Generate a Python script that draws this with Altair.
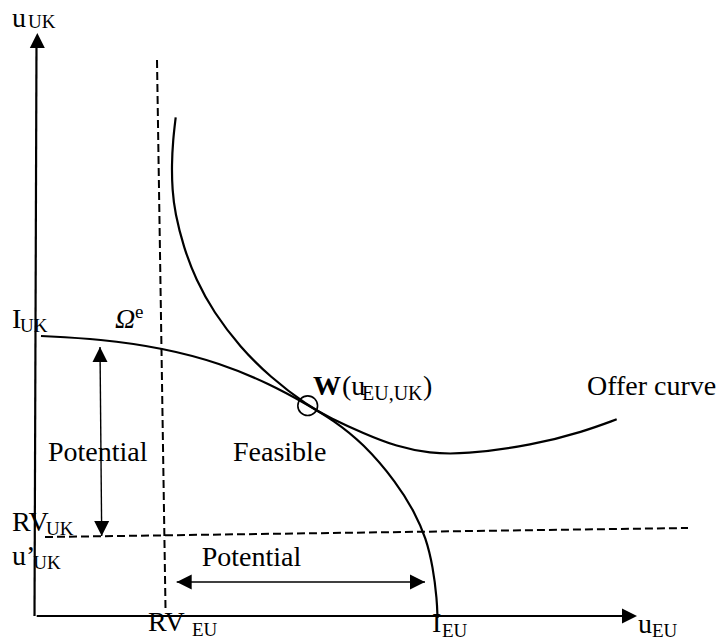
import altair as alt
import pandas as pd

# Coordinates: u_EU (horizontal) and u_UK (vertical), origin where the axes meet.
# Frontier of the feasible set (from I_UK down to I_EU)
frontier_eu = [5, 64, 127, 184, 234, 272, 297, 327, 361, 379, 390, 397, 401, 401.5]
frontier_uk = [280, 277, 268, 253, 232, 211, 196, 173, 133, 103, 78, 49, 16, -2]

# Offer curve
offer_eu = [139.7, 137, 135.7, 136.3, 139, 147.5, 160, 177.5, 204, 234, 271.7, 294,
            327.3, 360.7, 394, 427, 497.3, 547.3, 580.7]
offer_uk = [498.7, 476, 451, 426, 403, 369, 336, 304, 269, 239, 210.3, 198,
            182.7, 169.3, 162.7, 161.5, 171, 184.3, 196.7]

# Axes (solid segments) and their arrow tips
axis_x1 = [-1.5, 0.7]
axis_y1 = [0, 0]
axis_x2 = [0.5, 586]
axis_y2 = [575, 0]

# Reservation values (dashed segments)
dash_x1 = [121, 9]
dash_y1 = [556, 79]
dash_x2 = [129.5, 652]
dash_y2 = [8, 88]

# "Potential" double arrows
pot_x1 = [64, 140.7]
pot_y1 = [269, 34]
pot_x2 = [65.7, 389]
pot_y2 = [80, 34]

# Arrow heads: tip position and direction
head_x = [1.3, 601, 64, 65.7, 140.7, 389]
head_y = [583, 0, 269, 80, 34, 34]
head_dir = [0, 90, 0, 180, 270, 90]

# Point W
w_eu = [271.7]
w_uk = [210.3]

# Labels
lab_text = ["u", "UK", "I", "UK", "e", "(u", "EU,UK", ")", "Offer curve",
            "Potential", "Feasible", "RV", "UK", "u\u2019", "UK", "RV", "EU",
            "I", "EU", "u", "EU", "Potential"]
lab_x = [-24, -8, -24, -16, 99, 306, 326, 387, 551, 12, 197, -24, 10, -24, -2.7,
         112, 156, 396, 406, 602, 616, 165.7]
lab_y = [589, 588, 288, 284, 298, 221, 216, 221, 221, 155, 155, 85, 81, 51.5, 47,
         -15, -20, -15.5, -20.7, -17, -20.7, 50]
lab_size = [28, 19, 28, 19, 19, 28, 20, 28, 28, 28, 28, 28, 19, 28, 19, 28, 19,
            28, 19, 28, 19, 28]

ital_text = ["\u03a9"]
ital_x = [79]
ital_y = [288]

bold_text = ["W"]
bold_x = [277]
bold_y = [221]

FONT = "Liberation Serif"

xs = alt.Scale(domain=[-28, 681], nice=False, zero=False)
ys = alt.Scale(domain=[-27, 608], nice=False, zero=False)


def X(f="x"):
    return alt.X(f + ":Q", scale=xs, axis=None)


def Y(f="y"):
    return alt.Y(f + ":Q", scale=ys, axis=None)


frontier_df = pd.DataFrame({"x": frontier_eu, "y": frontier_uk, "i": range(len(frontier_eu))})
offer_df = pd.DataFrame({"x": offer_eu, "y": offer_uk, "i": range(len(offer_eu))})
axis_df = pd.DataFrame({"x": axis_x1, "y": axis_y1, "x2": axis_x2, "y2": axis_y2})
dash_df = pd.DataFrame({"x": dash_x1, "y": dash_y1, "x2": dash_x2, "y2": dash_y2})
pot_df = pd.DataFrame({"x": pot_x1, "y": pot_y1, "x2": pot_x2, "y2": pot_y2})
head_df = pd.DataFrame({"x": head_x, "y": head_y, "a": head_dir})
w_df = pd.DataFrame({"x": w_eu, "y": w_uk})
lab_df = pd.DataFrame({"t": lab_text, "x": lab_x, "y": lab_y, "s": lab_size})
ital_df = pd.DataFrame({"t": ital_text, "x": ital_x, "y": ital_y})
bold_df = pd.DataFrame({"t": bold_text, "x": bold_x, "y": bold_y})

frontier = alt.Chart(frontier_df).mark_line(
    color="black", strokeWidth=2.2, interpolate="basis"
).encode(x=X(), y=Y(), order="i:Q")

offer = alt.Chart(offer_df).mark_line(
    color="black", strokeWidth=2.2, interpolate="basis"
).encode(x=X(), y=Y(), order="i:Q")

axes = alt.Chart(axis_df).mark_rule(color="black", strokeWidth=2.2).encode(
    x=X(), y=Y(), x2="x2:Q", y2="y2:Q"
)

dashes = alt.Chart(dash_df).mark_rule(
    color="black", strokeWidth=2, strokeDash=[8, 4]
).encode(x=X(), y=Y(), x2="x2:Q", y2="y2:Q")

pots = alt.Chart(pot_df).mark_rule(color="black", strokeWidth=1.4).encode(
    x=X(), y=Y(), x2="x2:Q", y2="y2:Q"
)

heads = alt.Chart(head_df).mark_point(
    shape="M0,0L-1,2L1,2Z", filled=True, size=225, color="black", opacity=1
).encode(x=X(), y=Y(), angle=alt.Angle("a:Q", scale=None))

wpt = alt.Chart(w_df).mark_point(
    shape="circle", filled=False, size=390, strokeWidth=1.6, color="black", opacity=1
).encode(x=X(), y=Y())

labels = alt.Chart(lab_df).mark_text(
    align="left", baseline="alphabetic", font=FONT, color="black"
).encode(x=X(), y=Y(), text="t:N", size=alt.Size("s:Q", scale=None))

ital = alt.Chart(ital_df).mark_text(
    align="left", baseline="alphabetic", font=FONT, fontSize=28,
    fontStyle="italic", color="black"
).encode(x=X(), y=Y(), text="t:N")

bold = alt.Chart(bold_df).mark_text(
    align="left", baseline="alphabetic", font=FONT, fontSize=28,
    fontWeight="bold", color="black"
).encode(x=X(), y=Y(), text="t:N")

chart = alt.layer(
    dashes, axes, pots, heads, frontier, offer, wpt, labels, ital, bold
).properties(
    width=709, height=635, padding=0,
    autosize=alt.AutoSizeParams(type="none")
).configure_view(stroke=None)

chart.save("out.html", embed_options={"renderer": "svg", "actions": False})
